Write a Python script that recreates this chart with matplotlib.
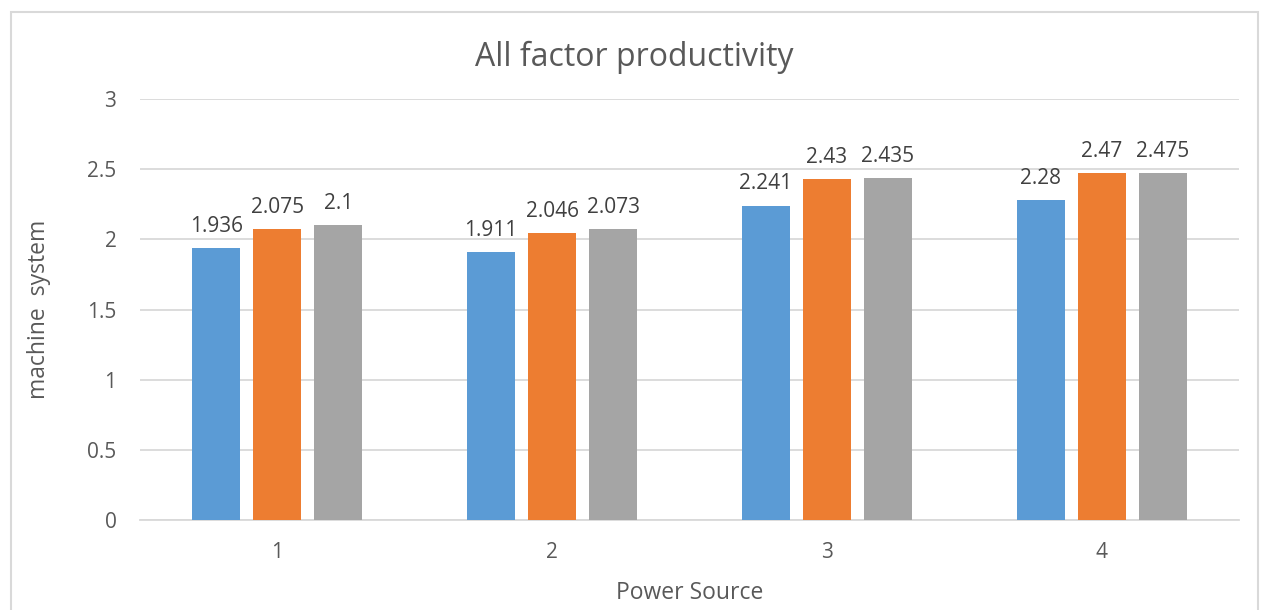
import matplotlib
matplotlib.use("Agg")
import matplotlib.pyplot as plt
import numpy as np
from matplotlib.patches import Rectangle

plt.rcParams['font.family'] = ['Open Sans', 'DejaVu Sans']

categories = ["1", "2", "3", "4"]
series_a = [1.936, 1.911, 2.241, 2.28]
series_b = [2.075, 2.046, 2.43, 2.47]
series_c = [2.1, 2.073, 2.435, 2.475]
y_ticks = [0, 0.5, 1, 1.5, 2, 2.5, 3]
y_tick_labels = ["0", "0.5", "1", "1.5", "2", "2.5", "3"]

colors = ["#5B9BD5", "#ED7D31", "#A5A5A5"]
text_color = "#595959"

fig = plt.figure(figsize=(12.64, 6.10), dpi=100)
fig.patch.set_facecolor("white")

# chart-area border
fig.patches.append(Rectangle((11 / 1264, -0.05), (1258 - 11) / 1264, 1.05 - 12 / 610,
                             transform=fig.transFigure, fill=False,
                             edgecolor="#D9D9D9", linewidth=1.5))

left, right = 140 / 1264, 1239 / 1264
bottom, top = 1 - 520 / 610, 1 - 99 / 610
ax = fig.add_axes([left, bottom, right - left, top - bottom])

x = np.arange(len(categories))
width = 0.175
offset = 0.222
for i, (vals, col) in enumerate(zip([series_a, series_b, series_c], colors)):
    pos = x + (i - 1) * offset
    ax.bar(pos, vals, width=width, color=col, zorder=3)
    for xp, v in zip(pos, vals):
        ax.annotate(f"{v:g}", (xp, v), xytext=(0, 8), textcoords="offset points",
                    ha="center", va="bottom", fontsize=15, color="#404040")

ax.set_xlim(-0.5, len(categories) - 0.5)
ax.set_ylim(0, 3)
ax.set_yticks(y_ticks)
ax.set_yticklabels(y_tick_labels)
ax.set_xticks(x)
ax.set_xticklabels(categories)
ax.yaxis.grid(True, color="#D9D9D9", linewidth=1.3, zorder=0)
ax.set_axisbelow(True)
for s in ["top", "right", "left"]:
    ax.spines[s].set_visible(False)
ax.spines["bottom"].set_color("#D9D9D9")
ax.spines["bottom"].set_linewidth(1.3)
ax.tick_params(axis="both", length=0, labelsize=15, colors=text_color)
ax.tick_params(axis="y", pad=17)
ax.tick_params(axis="x", pad=16)

ax.set_xlabel("Power Source", fontsize=16.5, color=text_color, labelpad=13)
ax.set_ylabel("machine  system", fontsize=16.5, color=text_color, labelpad=26)
fig.text(634 / 1264, 1 - 57 / 610, "All factor productivity",
         ha="center", va="center", fontsize=23, color=text_color)

fig.savefig("out.png", dpi=100)
